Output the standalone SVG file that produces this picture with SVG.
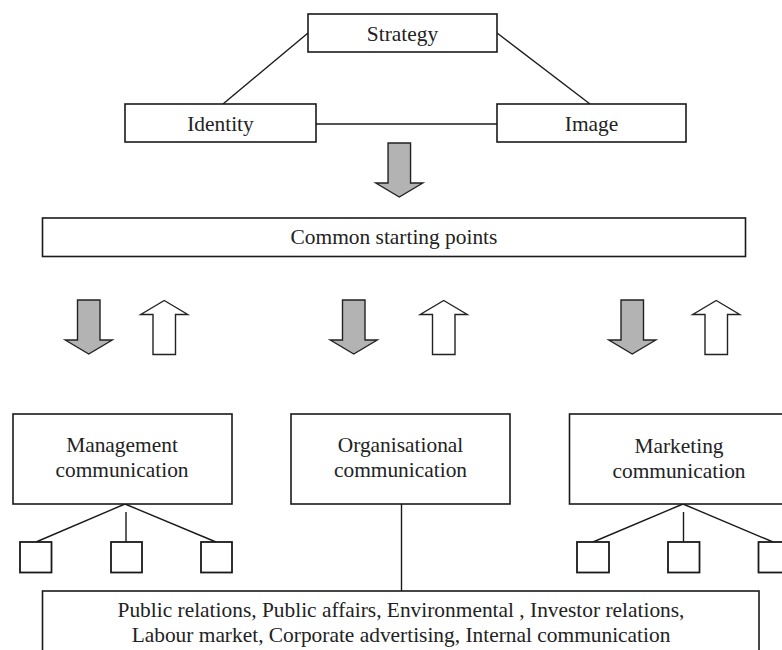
<svg xmlns="http://www.w3.org/2000/svg" width="782" height="650" viewBox="0 0 782 650">
<style>
  .box { fill: #fff; stroke: #1a1a1a; stroke-width: 1.6; }
  .sub { fill: #fff; stroke: #1a1a1a; stroke-width: 1.8; }
  .ln { stroke: #1a1a1a; stroke-width: 1.4; fill: none; }
  .t { font-family: "Liberation Serif", "Times New Roman", serif; font-size: 21.4px; fill: #222; text-anchor: middle; }
  .down { fill: #b3b3b3; stroke: #222; stroke-width: 1.4; stroke-linejoin: miter; }
  .up { fill: #fff; stroke: #222; stroke-width: 1.4; stroke-linejoin: miter; }
</style>
<defs>
  <path id="downArrow" d="M-11.25,0 H11.25 V40 H23.5 L0,54 L-23.5,40 H-11.25 Z"/>
  <path id="upArrow" d="M0,0 L23.5,14 H11.25 V54 H-11.25 V14 H-23.5 Z"/>
</defs>
<rect width="782" height="650" fill="#fff"/>

<g id="connectors">
  <line class="ln" x1="308" y1="33" x2="223" y2="104"/>
  <line class="ln" x1="497" y1="33" x2="590" y2="104"/>
  <line class="ln" x1="316" y1="124" x2="497" y2="124"/>
  <line class="ln" x1="125" y1="504" x2="36" y2="542"/>
  <line class="ln" x1="126" y1="512" x2="126" y2="542"/>
  <line class="ln" x1="125" y1="504" x2="216" y2="542"/>
  <line class="ln" x1="401.5" y1="504" x2="401.5" y2="591"/>
  <line class="ln" x1="683" y1="504" x2="593" y2="542"/>
  <line class="ln" x1="683.5" y1="512" x2="683.5" y2="542"/>
  <line class="ln" x1="683" y1="504" x2="773" y2="542"/>
</g>

<g id="arrows">
  <use href="#downArrow" class="down" x="399.3" y="143"/>
  <use href="#downArrow" class="down" x="88.75" y="300"/>
  <use href="#upArrow" class="up" x="164.25" y="300.5"/>
  <use href="#downArrow" class="down" x="353.75" y="300"/>
  <use href="#upArrow" class="up" x="443.75" y="300.5"/>
  <use href="#downArrow" class="down" x="632.25" y="300"/>
  <use href="#upArrow" class="up" x="716.25" y="300.5"/>
</g>

<g id="strategy">
  <rect class="box" x="308" y="14" width="189" height="38"/>
  <text class="t" x="402.5" y="40.5">Strategy</text>
</g>
<g id="identity">
  <rect class="box" x="125" y="104" width="191" height="38"/>
  <text class="t" x="220.5" y="131">Identity</text>
</g>
<g id="image">
  <rect class="box" x="497" y="104" width="189" height="38"/>
  <text class="t" x="591.5" y="131">Image</text>
</g>
<g id="common">
  <rect class="box" x="42.5" y="218" width="703" height="38.5"/>
  <text class="t" x="394" y="244">Common starting points</text>
</g>
<g id="management">
  <rect class="box" x="13" y="414" width="219" height="90"/>
  <text class="t" x="122" y="452">Management</text>
  <text class="t" x="122" y="477">communication</text>
</g>
<g id="organisational">
  <rect class="box" x="291" y="414" width="219" height="90"/>
  <text class="t" x="400.5" y="452">Organisational</text>
  <text class="t" x="400.5" y="477">communication</text>
</g>
<g id="marketing">
  <rect class="box" x="569.5" y="414" width="219" height="90"/>
  <text class="t" x="679" y="453">Marketing</text>
  <text class="t" x="679" y="478">communication</text>
</g>
<g id="mgmt-sub1"><rect class="sub" x="20" y="542" width="31.5" height="30.5"/></g>
<g id="mgmt-sub2"><rect class="sub" x="111" y="542" width="31" height="30.5"/></g>
<g id="mgmt-sub3"><rect class="sub" x="201" y="542" width="31" height="30.5"/></g>
<g id="mkt-sub1"><rect class="sub" x="577" y="542" width="32" height="30.5"/></g>
<g id="mkt-sub2"><rect class="sub" x="668" y="542" width="31.5" height="30.5"/></g>
<g id="mkt-sub3"><rect class="sub" x="758.5" y="542" width="31.5" height="30.5"/></g>
<g id="organisational-list">
  <rect class="box" x="42.5" y="591" width="716.5" height="80"/>
  <text class="t" x="401" y="616.5">Public relations, Public affairs, Environmental , Investor relations,</text>
  <text class="t" x="401" y="641.5">Labour market, Corporate advertising, Internal communication</text>
</g>
</svg>
